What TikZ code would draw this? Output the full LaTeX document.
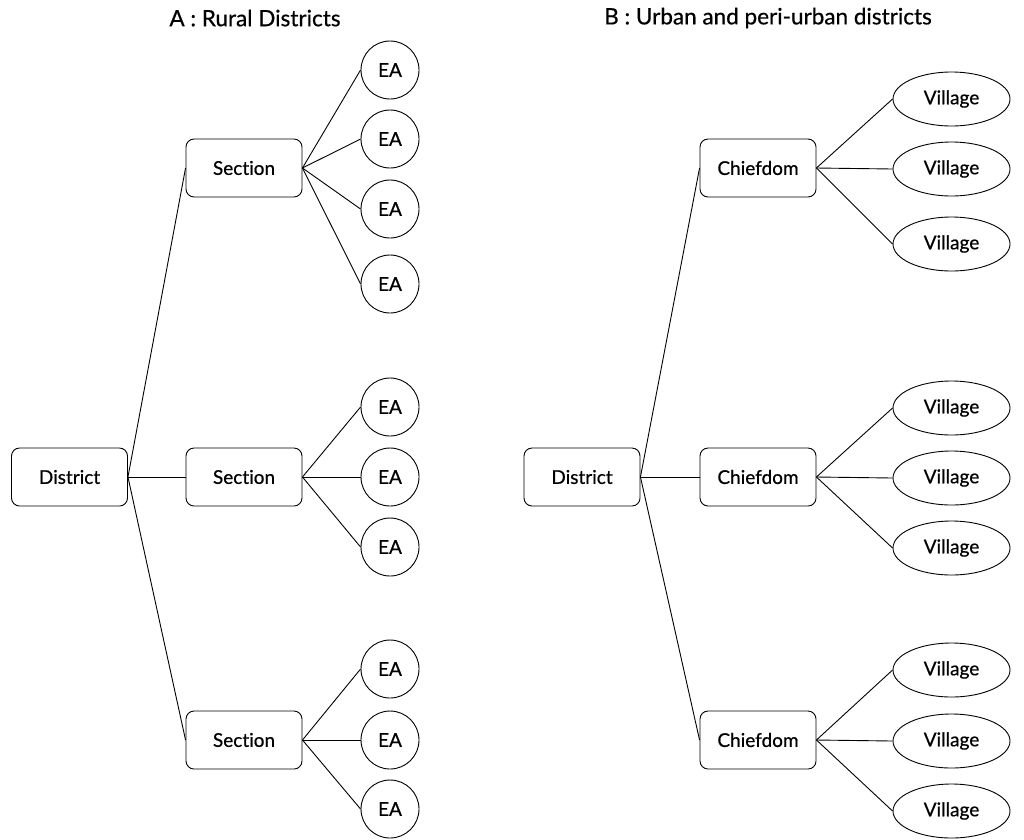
\documentclass[tikz,border=0pt]{standalone}
\usepackage{fontspec}
\setmainfont{Lato}[FakeBold=0.6,Ligatures=NoCommon]
\usetikzlibrary{shapes.geometric}
\begin{document}
\begin{tikzpicture}[x=1pt,y=-1pt,line width=0.9pt,
  box/.style={draw,rounded corners=8pt,minimum width=116pt,minimum height=58pt,inner sep=0pt,font=\fontsize{19}{22}\selectfont},
  ea/.style={draw,circle,minimum size=58pt,inner sep=0pt,font=\fontsize{19}{22}\selectfont},
  vil/.style={draw,ellipse,minimum width=117pt,minimum height=54pt,inner sep=0pt,font=\fontsize{19}{22}\selectfont},
  ttl/.style={font=\fontsize{22.5}{26}\selectfont}]
\useasboundingbox (0,0) rectangle (1024,839);
\node[ttl] (ta) at (255,18) {A : Rural Districts};
\node[ttl] (tb) at (768,18) {B : Urban and peri-urban districts};
% A
\node[box] (da) at (69.5,477) {District};
\node[box] (s1) at (244,168) {Section};
\node[box] (s2) at (244,477) {Section};
\node[box] (s3) at (244,740) {Section};
\draw (da.east) -- (s1.west);
\draw (da.east) -- (s2.west);
\draw (da.east) -- (s3.west);
\foreach \n/\y/\s in {a1/70/s1,a2/139/s1,a3/209/s1,a4/284/s1,b1/407/s2,b2/477/s2,b3/547/s2,c1/669/s3,c2/740/s3,c3/809/s3}{
  \node[ea] (\n) at (390,\y) {EA};
  \draw (\s.east) -- (\n.west);
}
% B
\node[box] (db) at (582,477) {District};
\node[box] (c1) at (758,168) {Chiefdom};
\node[box] (c2) at (758,477) {Chiefdom};
\node[box] (c3) at (758,740) {Chiefdom};
\draw (db.east) -- (c1.west);
\draw (db.east) -- (c2.west);
\draw (db.east) -- (c3.west);
\foreach \n/\y/\s in {v1/99/c1,v2/169/c1,v3/244/c1,v4/408/c2,v5/478/c2,v6/548/c2,v7/670/c3,v8/741/c3,v9/811/c3}{
  \node[vil] (\n) at (951.5,\y) {Village};
  \draw (\s.east) -- (\n.west);
}
\end{tikzpicture}
\end{document}
